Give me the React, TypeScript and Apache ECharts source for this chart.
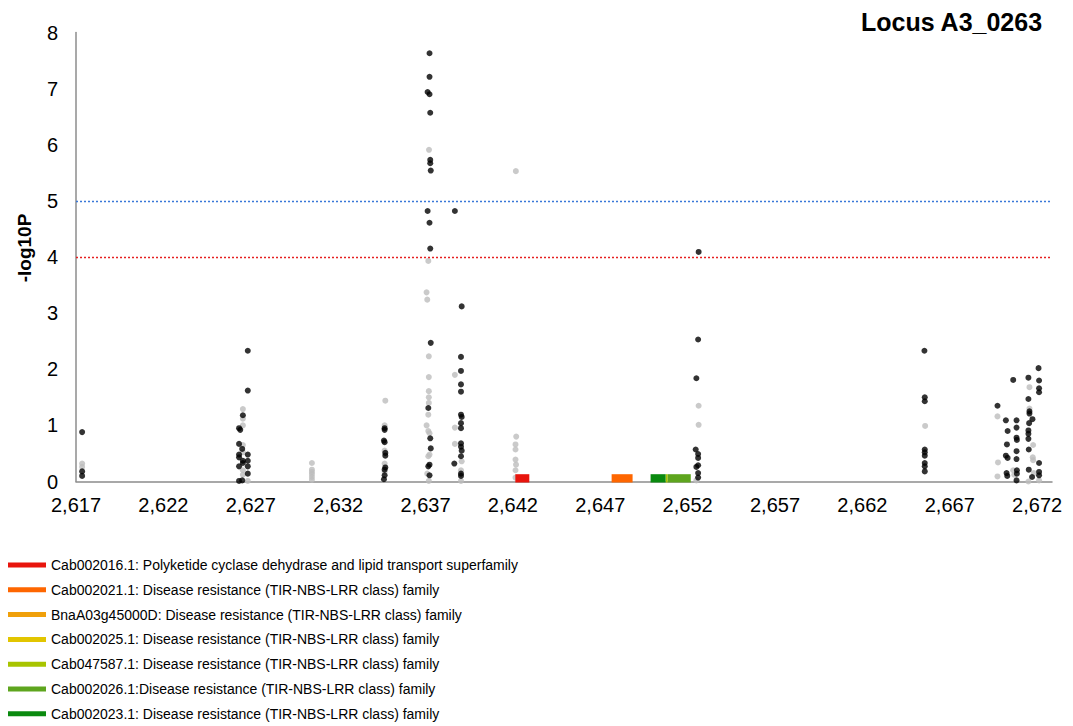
import React, { useEffect, useRef } from "react";
import * as echarts from "echarts";

const FONT = "'Liberation Sans', Arial, sans-serif";

const xTickMin = 2617;
const xTickStep = 5;
const yTicks = [0, 1, 2, 3, 4, 5, 6, 7, 8];
const thresholdBlue = 5;
const thresholdRed = 4;

const blackPoints: [number, number][] = [
  [2617.35, 0.88], [2617.35, 0.18], [2617.35, 0.1],
  [2626.83, 2.33], [2626.83, 1.62], [2626.55, 1.18], [2626.33, 0.95], [2626.4, 0.92], [2626.33, 0.67],
  [2626.51, 0.58], [2626.33, 0.48], [2626.83, 0.48], [2626.33, 0.43], [2626.55, 0.37], [2626.83, 0.37],
  [2626.55, 0.33], [2626.33, 0.27], [2626.83, 0.27], [2626.83, 0.14], [2626.33, 0.01], [2626.51, 0.02],
  [2634.66, 0.95], [2634.66, 0.92], [2634.62, 0.73], [2634.66, 0.7], [2634.7, 0.51], [2634.7, 0.46],
  [2634.7, 0.25], [2634.66, 0.21], [2634.66, 0.11], [2634.62, 0.04],
  [2637.23, 7.63], [2637.23, 7.21], [2637.12, 6.94], [2637.23, 6.9], [2637.27, 6.57], [2637.27, 5.73],
  [2637.27, 5.67], [2637.3, 5.54], [2637.12, 4.82], [2637.23, 4.61], [2637.27, 4.15], [2637.3, 2.47],
  [2637.16, 1.31], [2637.27, 0.77], [2637.3, 0.59], [2637.23, 0.3], [2637.16, 0.27], [2637.23, 0.11],
  [2638.68, 4.82], [2639.07, 3.12], [2639.03, 2.22], [2639.03, 1.97], [2639.03, 1.73], [2639.03, 1.6],
  [2639.03, 1.19], [2639.07, 1.15], [2639.03, 1.04], [2639.03, 0.95], [2639.03, 0.68], [2639.03, 0.62],
  [2639.07, 0.55], [2639.03, 0.45], [2638.65, 0.32], [2639.03, 0.14], [2639.03, 0.1],
  [2652.63, 4.09], [2652.6, 2.53], [2652.5, 1.84], [2652.46, 0.57], [2652.6, 0.49], [2652.6, 0.42],
  [2652.6, 0.29], [2652.5, 0.26], [2652.6, 0.15], [2652.6, 0.07],
  [2665.55, 2.33], [2665.57, 1.5], [2665.57, 1.43], [2665.57, 0.57], [2665.57, 0.52], [2665.57, 0.46],
  [2665.57, 0.33], [2665.57, 0.27], [2665.57, 0.18],
  [2669.73, 1.35],
  [2670.21, 1.09], [2670.31, 0.9], [2670.27, 0.66], [2670.21, 0.46], [2670.31, 0.42], [2670.25, 0.15], [2670.29, 0.1],
  [2670.63, 1.81],
  [2670.82, 1.09], [2670.82, 0.96], [2670.82, 0.78], [2670.84, 0.74], [2670.82, 0.54], [2670.82, 0.4],
  [2670.84, 0.2], [2670.84, 0.14], [2670.82, 0.02],
  [2671.5, 1.85], [2671.5, 1.47], [2671.56, 1.25], [2671.56, 1.21], [2671.73, 1.11], [2671.54, 1.04],
  [2671.5, 0.91], [2671.5, 0.85], [2671.5, 0.76], [2671.52, 0.57], [2671.52, 0.21], [2671.71, 0.08],
  [2672.08, 2.02], [2672.11, 1.8], [2672.11, 1.66], [2672.11, 1.59], [2672.11, 0.33], [2672.11, 0.17], [2672.11, 0.11],
];

const grayPoints: [number, number][] = [
  [2617.35, 0.32], [2617.35, 0.26],
  [2626.55, 1.29], [2626.55, 1.12], [2626.55, 1.0], [2626.55, 0.65], [2626.55, 0.52], [2626.55, 0.2],
  [2626.55, 0.12], [2626.83, 0.01],
  [2630.5, 0.33], [2630.5, 0.21], [2630.5, 0.17], [2630.5, 0.13], [2630.5, 0.08], [2630.5, 0.03],
  [2634.7, 1.44], [2634.66, 1.0], [2634.66, 0.55], [2634.66, 0.32], [2634.66, 0.17],
  [2637.2, 5.91], [2637.16, 3.93], [2637.06, 3.37], [2637.1, 3.24], [2637.19, 2.23], [2637.19, 1.86],
  [2637.19, 1.61], [2637.19, 1.5], [2637.19, 1.4], [2637.16, 1.19], [2637.06, 1.0], [2637.16, 0.9],
  [2637.23, 0.86], [2637.23, 0.48], [2637.16, 0.45], [2637.1, 0.14], [2637.19, 0.01],
  [2638.68, 1.9], [2638.68, 0.96], [2638.68, 0.67], [2639.07, 0.36], [2639.03, 0.2], [2639.03, 0.01],
  [2642.17, 5.53], [2642.19, 0.8], [2642.15, 0.66], [2642.15, 0.57], [2642.15, 0.39], [2642.18, 0.3],
  [2642.15, 0.2], [2642.15, 0.07],
  [2652.63, 1.35], [2652.63, 1.01], [2652.5, 0.02],
  [2665.59, 0.99],
  [2669.73, 1.16], [2669.76, 0.34], [2669.73, 0.09], [2670.63, 0.2], [2670.69, 0.12],
  [2671.56, 1.68], [2671.56, 1.3], [2671.77, 0.65], [2671.75, 0.43], [2671.77, 0.38], [2671.81, 0.15],
  [2671.5, 0.0], [2672.11, 0.02],
];

const geneNames = [
  "Cab002016.1: Polyketide cyclase dehydrase and lipid transport superfamily",
  "Cab002021.1: Disease resistance (TIR-NBS-LRR class) family",
  "BnaA03g45000D: Disease resistance (TIR-NBS-LRR class) family",
  "Cab002025.1: Disease resistance (TIR-NBS-LRR class) family",
  "Cab047587.1: Disease resistance (TIR-NBS-LRR class) family",
  "Cab002026.1:Disease resistance (TIR-NBS-LRR class) family",
  "Cab002023.1: Disease resistance (TIR-NBS-LRR class) family",
];
// [start, end] in kb; null = not drawn in the plot window
const geneSpans: ([number, number] | null)[] = [
  [2642.14, 2642.94],
  [2647.65, 2648.85],
  null,
  null,
  [2650.74, 2650.86],
  [2650.86, 2652.18],
  [2649.88, 2650.74],
];
const geneBarHeight = 0.13;
const geneColors = ["#e8150d", "#fe6600", "#f0a00a", "#e2c500", "#a8c400", "#5ea51e", "#0a8a0f"];

export default function App() {
  const ref = useRef<HTMLDivElement>(null);
  useEffect(() => {
    if (!ref.current) return;
    const chart = echarts.init(ref.current, null, { renderer: "svg" });
    const geneSeries = geneNames.map((name, i) => {
      const span = geneSpans[i];
      return {
        name,
        type: "custom",
        z: 5,
        itemStyle: { color: geneColors[i] },
        encode: { x: [0, 1], y: 2 },
        data: span ? [[span[0], span[1], geneBarHeight]] : [],
        renderItem: (params: any, api: any) => {
          const s = api.coord([api.value(0), api.value(2)]);
          const e = api.coord([api.value(1), 0]);
          return {
            type: "rect",
            shape: { x: s[0], y: s[1], width: e[0] - s[0], height: e[1] - s[1] + 1 },
            style: { fill: geneColors[i] },
          };
        },
      };
    });
    chart.setOption({
      animation: false,
      title: {
        text: "Locus A3_0263",
        right: 30,
        top: 9,
        padding: 0,
        textStyle: { fontSize: 25, fontWeight: "bold", color: "#000", fontFamily: FONT },
      },
      graphic: [
        {
          type: "text",
          x: 24,
          y: 248,
          rotation: Math.PI / 2,
          style: {
            text: "-log10P",
            font: `bold 19px ${FONT}`,
            fill: "#000",
            align: "center",
            verticalAlign: "middle",
          },
        },
      ],
      legend: {
        orient: "vertical",
        left: 8,
        top: 555,
        padding: 0,
        itemWidth: 38,
        itemHeight: 5,
        itemGap: 4.8,
        icon: "rect",
        selectedMode: false,
        data: geneNames,
        textStyle: { fontSize: 14, lineHeight: 20, color: "#000", fontFamily: FONT },
      },
      grid: { left: 76, right: 21, top: 32.5, bottom: 244.5 },
      xAxis: {
        type: "value",
        min: xTickMin,
        max: 2672.85,
        interval: xTickStep,
        splitLine: { show: false },
        axisTick: { show: false },
        axisLine: { lineStyle: { color: "#8c8c8c", width: 1.5 } },
        axisLabel: {
          fontSize: 20,
          color: "#000",
          fontFamily: FONT,
          margin: 13,
          formatter: (v: number) => {
            const k = (v - xTickMin) / xTickStep;
            return Math.abs(k - Math.round(k)) < 1e-6 ? Math.round(v).toLocaleString("en-US") : "";
          },
        },
      },
      yAxis: {
        type: "value",
        min: yTicks[0],
        max: yTicks[yTicks.length - 1],
        interval: 1,
        splitLine: { show: false },
        axisTick: { show: false },
        axisLine: { show: true, lineStyle: { color: "#8c8c8c", width: 1.5 } },
        axisLabel: { fontSize: 20, color: "#000", fontFamily: FONT, margin: 18 },
      },
      series: [
        {
          name: "grey",
          type: "scatter",
          symbolSize: 6,
          itemStyle: { color: "#bdbdbd" },
          data: grayPoints,
          z: 2,
        },
        {
          name: "black",
          type: "scatter",
          symbolSize: 6,
          itemStyle: { color: "#000" },
          data: blackPoints,
          z: 3,
          markLine: {
            silent: true,
            symbol: "none",
            label: { show: false },
            data: [
              { yAxis: thresholdBlue, lineStyle: { color: "#3a78d8", type: [2, 2], width: 1.3 } },
              { yAxis: thresholdRed, lineStyle: { color: "#e62020", type: [2, 2], width: 1.3 } },
            ],
          },
        },
        ...geneSeries,
      ],
    });
    return () => chart.dispose();
  }, []);
  return (
    <div
      ref={ref}
      style={{ position: "fixed", left: 0, top: 0, width: 1073, height: 726, background: "#fff" }}
    />
  );
}
